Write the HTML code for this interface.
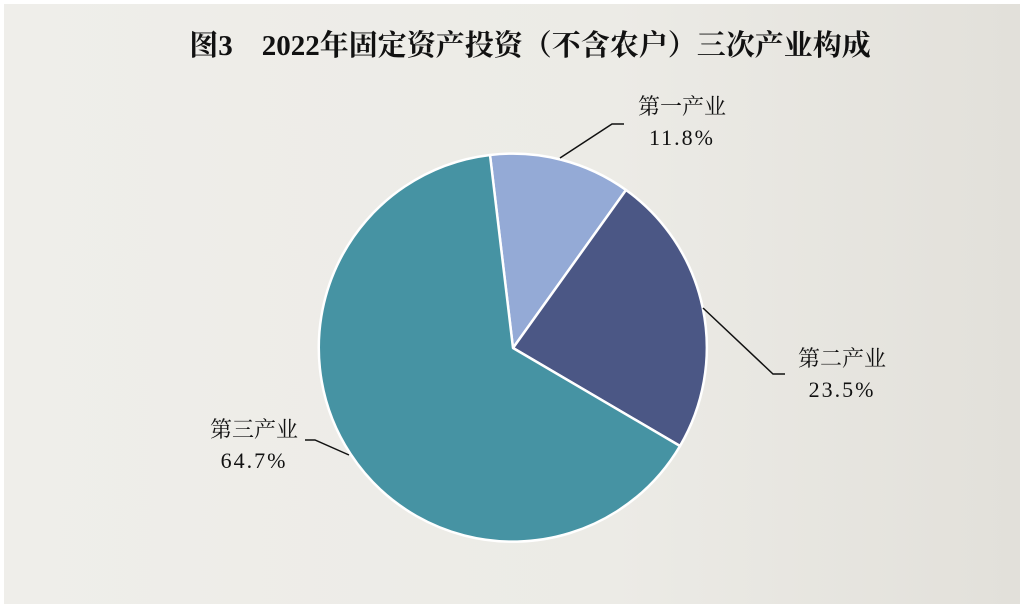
<!DOCTYPE html>
<html><head><meta charset="utf-8"><style>
body{margin:0;width:1024px;height:608px;overflow:hidden;}
</style></head><body>
<svg width="1024" height="608" xmlns="http://www.w3.org/2000/svg">
<defs><linearGradient id="bg" x1="0" x2="1" y1="0" y2="0">
<stop offset="0" stop-color="#efeeea"/><stop offset="0.6" stop-color="#ecebe6"/><stop offset="1" stop-color="#e2e0da"/></linearGradient></defs>
<rect width="1024" height="608" fill="#fff"/>
<rect x="4" y="4" width="1016" height="600" fill="url(#bg)"/>
<text x="530" y="55" text-anchor="middle" font-family="Liberation Serif, Noto Serif CJK SC, serif" font-size="29" font-weight="bold" fill="#111">图3　2022年固定资产投资（不含农户）三次产业构成</text>
<g stroke="#fff" stroke-width="2.5" stroke-linejoin="round">
<path d="M513,348 L490,155 A194,194 0 0 1 626,190 Z" fill="#94aad6"/>
<path d="M513,348 L626,190 A194,194 0 0 1 680,446 Z" fill="#4b5785"/>
<path d="M513,348 L680,446 A194,194 0 1 1 490,155 Z" fill="#4693a3"/>
</g>
<g stroke="#111" stroke-width="1.5" fill="none">
<polyline points="560,158 612,124 624,124"/>
<polyline points="703,308 773,374 785,374"/>
<polyline points="349,455 315,440 305,440"/>
</g>
<g font-family="Liberation Serif, Noto Serif CJK SC, serif" font-size="22" fill="#111" text-anchor="middle">
<text x="682" y="114">第一产业</text><text x="682" y="145" letter-spacing="2">11.8%</text>
<text x="842" y="366">第二产业</text><text x="842" y="397" letter-spacing="2">23.5%</text>
<text x="254" y="437">第三产业</text><text x="254" y="468" letter-spacing="2">64.7%</text>
</g>
</svg>
</body></html>
